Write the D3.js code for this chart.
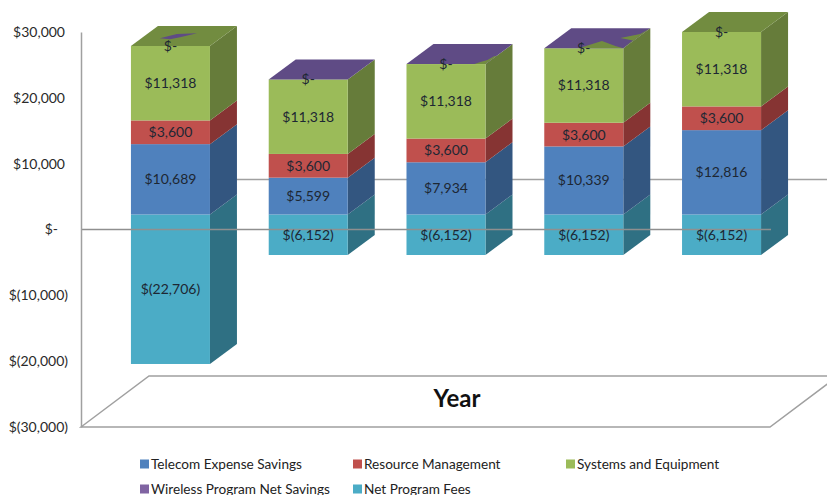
<html>
<head>
<script src="https://cdnjs.cloudflare.com/ajax/libs/d3/7.8.5/d3.min.js"></script>
<style>
  body { margin: 0; background: white; }
  text { font-family: Lato, "Open Sans", sans-serif; }
</style>
</head>
<body>
<div id="graph"></div>
<script>
// chart values
var years = ["Y1", "Y2", "Y3", "Y4", "Y5"];
var telecom = [10689, 5599, 7934, 10339, 12816];
var resource = [3600, 3600, 3600, 3600, 3600];
var systems = [11318, 11318, 11318, 11318, 11318];
var wireless = [0, 0, 0, 0, 0];
var fees = [-22706, -6152, -6152, -6152, -6152];
var yTicks = [30000, 20000, 10000, 0, -10000, -20000, -30000];
var seriesNames = ["Telecom Expense Savings", "Resource Management", "Systems and Equipment", "Wireless Program Net Savings", "Net Program Fees"];
var seriesKeys = ["telecom", "resource", "systems", "wireless", "fees"];

// the zero-height wireless cap fights with the green one on the top face
var capColor = ["green", "purple", "purple", "purple", "green"];
var capPatches = [
  [{color: "purple", pts: [[.235,.385],[.377,.6],[.619,.635],[.472,.435],[.38,.335]]}],
  [],
  [{color: "green", pts: [[.86,0],[.9,.1],[.957,.2],[.977,.4],[1,.4],[1,0]]}],
  [{color: "green", pts: [[.434,0],[.605,.365],[.86,.115],[1,0]]},
   {color: "green", pts: [[1,1],[.971,.715],[.786,.515],[.992,.38],[.99,.215],[1,0]]}],
  []
];

var front = {telecom: "#4f81bd", resource: "#c0504d", systems: "#9bbb59", wireless: "#8064a2", fees: "#4bacc6"};
var side = {telecom: "#335680", resource: "#863433", systems: "#667c3a", wireless: "#59467a", fees: "#2f7083"};
var top_ = {green: "#728c40", purple: "#5f4b85"};

var WIDTH = 827, HEIGHT = 495;
var DX = 27, DY = -20;        // depth of a bar
var PLANE = -15;              // bar fronts sit above the axis plane

var svg = d3.select("#graph").append("svg")
  .attr("width", WIDTH)
  .attr("height", HEIGHT)
  .style("display", "block");

var Y = d3.scaleLinear().domain([-30000, 30000]).range([427, 32]);
var X = d3.scaleBand().domain(years).range([110, 782]).paddingInner(0.4265).paddingOuter(0.152);

var rows = years.map(function(y, i) {
  return {year: y, telecom: telecom[i], resource: resource[i], systems: systems[i], wireless: wireless[i], fees: fees[i]};
});
var stacked = d3.stack().keys(seriesKeys).offset(d3.stackOffsetDiverging)(rows);

function bY(v) { return Y(v) + PLANE; }
function poly(pts) { return pts.map(function(p) { return p.join(","); }).join(" "); }
// top of the positive stack, the diverging offset leaves zero values at 0
function stackTop(i) { return stacked[seriesKeys.indexOf("systems")][i][1] + wireless[i]; }

var grey = "#a0a0a0";

// floor
var floorL = 81, floorR = 770;
svg.append("polygon")
  .attr("points", poly([[floorL, Y(-30000)], [floorL + 68, Y(-30000) - 51], [floorR + 68, Y(-30000) - 51], [floorR, Y(-30000)]]))
  .attr("fill", "white").attr("stroke", grey).attr("stroke-width", 1.5);

// zero line on the back wall, bars cover most of it
svg.append("line")
  .attr("x1", X(years[0]) + DX).attr("x2", WIDTH)
  .attr("y1", Y(0) - 50).attr("y2", Y(0) - 50)
  .attr("stroke", grey).attr("stroke-width", 1.5);

// bars
years.forEach(function(year, i) {
  var x0 = X(year), w = X.bandwidth();
  var g = svg.append("g").attr("class", "bar");
  ["fees", "telecom", "resource", "systems"].forEach(function(key) {
    var d = stacked[seriesKeys.indexOf(key)][i];
    var yHi = bY(Math.max(d[0], d[1])), yLo = bY(Math.min(d[0], d[1]));
    g.append("polygon")
      .attr("points", poly([[x0 + w, yHi], [x0 + w + DX, yHi + DY], [x0 + w + DX, yLo + DY], [x0 + w, yLo]]))
      .attr("fill", side[key]);
    g.append("rect")
      .attr("x", x0).attr("y", yHi).attr("width", w).attr("height", yLo - yHi)
      .attr("fill", front[key]);
  });
  var yTop = bY(stackTop(i));
  function face(u, v) { return [x0 + u * w + v * DX, yTop + v * DY]; }
  g.append("polygon")
    .attr("points", poly([face(0, 0), face(1, 0), face(1, 1), face(0, 1)]))
    .attr("fill", top_[capColor[i]]);
  capPatches[i].forEach(function(p) {
    g.append("polygon")
      .attr("points", poly(p.pts.map(function(q) { return face(q[0], q[1]); })))
      .attr("fill", top_[p.color]);
  });
});

// front zero line runs over the bars
svg.append("line")
  .attr("x1", floorL).attr("x2", floorR + 1)
  .attr("y1", Y(0)).attr("y2", Y(0))
  .attr("stroke", "#8f8f8f").attr("stroke-width", 1.5);

// value axis
function money(v) {
  if (v === 0) return "$-";
  var s = d3.format(",")(Math.abs(v));
  return v < 0 ? "$(" + s + ")" : "$" + s;
}
var axis = svg.append("g")
  .attr("transform", "translate(" + floorL + ",0)")
  .call(d3.axisLeft(Y).tickValues(yTicks).tickFormat(money).tickSize(0).tickPadding(16));
axis.select(".domain").attr("stroke", grey).attr("stroke-width", 1.5);
axis.selectAll("text")
  .style("font-family", "Lato")
  .style("font-size", "14px")
  .attr("fill", "#2a2a2a")
  .attr("dx", function(d) { return d === 0 ? -7 : (d < 0 ? 3 : 0); });

// data labels
seriesKeys.forEach(function(key, k) {
  svg.selectAll(".lab-" + key)
    .data(stacked[k])
    .enter().append("text")
    .attr("x", function(d, i) { return X(years[i]) + X.bandwidth() / 2; })
    .attr("y", function(d, i) {
      var mid = key === "wireless" ? stackTop(i) : (d[0] + d[1]) / 2;
      return bY(mid) + 5;
    })
    .attr("text-anchor", "middle")
    .attr("font-size", "14px")
    .attr("fill", "#1d2733")
    .text(function(d, i) { return money(rows[i][key]); });
});

// axis title
svg.append("text")
  .attr("x", 457).attr("y", 407)
  .attr("text-anchor", "middle")
  .attr("font-size", "24px")
  .attr("font-weight", "bold")
  .attr("fill", "#111")
  .text("Year");

// legend
var legendCols = d3.scalePoint().domain([0, 1, 2]).range([140, 566]);
var legendRows = d3.scalePoint().domain([0, 1]).range([464, 489]);
var legend = svg.selectAll(".legend")
  .data(seriesKeys)
  .enter().append("g")
  .attr("transform", function(d, i) { return "translate(" + legendCols(i % 3) + "," + legendRows(Math.floor(i / 3)) + ")"; });
legend.append("rect")
  .attr("y", -4.5).attr("width", 9).attr("height", 9)
  .attr("fill", function(d) { return front[d]; });
legend.append("text")
  .attr("x", 11).attr("y", 4.5)
  .attr("font-size", "13.6px")
  .attr("fill", "#222")
  .text(function(d, i) { return seriesNames[i]; });
</script>
</body>
</html>
